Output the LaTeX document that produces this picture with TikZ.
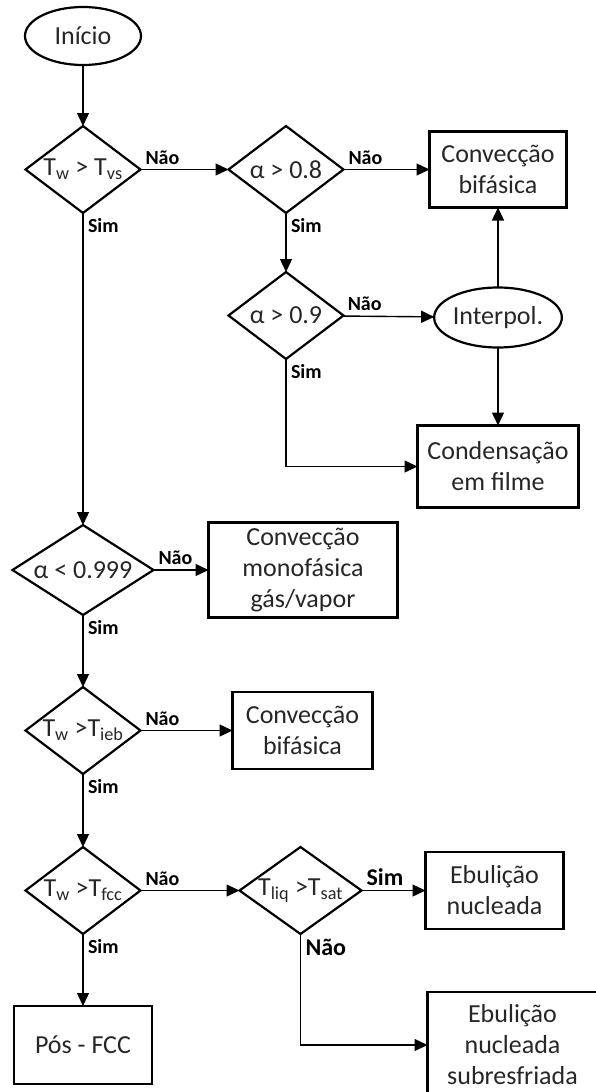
\documentclass[tikz,border=0pt]{standalone}
\usepackage{fontspec}
\setmainfont{Carlito}
\usetikzlibrary{arrows.meta,positioning,shapes.geometric}
\newcommand{\condtxt}[1]{\makebox[0pt]{#1}}
\newcommand{\ind}[1]{\textsubscript{#1}}

\begin{document}
\begin{tikzpicture}[
    x=1pt,y=1pt,
    every node/.style={font=\fontsize{26}{31}\selectfont,align=center,
      inner sep=0pt,outer sep=0pt,text=black!85},
    caixa/.style={draw,line width=2.2pt,minimum width=138pt,minimum height=78pt},
    decisao/.style={draw,diamond,line width=2.2pt,minimum width=115pt,minimum height=87pt},
    terminal/.style={draw,ellipse,line width=2.2pt,minimum width=116pt,minimum height=58pt},
    fluxo/.style={-{Triangle[length=13pt,width=12pt]},line width=1.4pt},
    rotulo/.style={font=\fontsize{20}{22}\selectfont\bfseries,text=black,
      inner xsep=5pt,inner ysep=5pt,pos=0},
    rotulog/.style={rotulo,font=\fontsize{24}{26}\selectfont\bfseries}
  ]
    \useasboundingbox (0,0) rectangle (595,-1092);

    \node[terminal] (inicio) at (83,-36) {Início};
    \node[decisao,below=61pt of inicio] (d1) {\condtxt{T\ind{w} > T\ind{vs}}};
    \node[decisao,right=88pt of d1] (d2) {\condtxt{α > 0.8}};
    \node[caixa,right=86pt of d2,minimum width=137pt,minimum height=76pt] (bif1)
      {Convecção\\bifásica};
    \node[decisao,below=59pt of d2] (d3) {\condtxt{α > 0.9}};
    \node[terminal,below=80pt of bif1,minimum width=115pt,minimum height=60pt] (interp)
      {Interpol.};
    \node[caixa,below=78pt of interp,minimum width=161pt,minimum height=82pt] (cond)
      {Condensação\\em filme};
    \node[decisao,below=312pt of d1,minimum width=141pt,minimum height=90pt] (d4)
      {\condtxt{α < 0.999}};
    \node[caixa,right=55pt of d4,minimum width=189pt,minimum height=95pt] (mono)
      {Convecção\\monofásica\\gás/vapor};
    \node[decisao,below=72pt of d4] (d5) {\condtxt{T\ind{w} >T\ind{ieb}}};
    \node[caixa,right=92pt of d5,minimum width=140pt,minimum height=77pt] (bif2)
      {Convecção\\bifásica};
    \node[decisao,below=73pt of d5] (d6) {\condtxt{T\ind{w} >T\ind{fcc}}};
    \node[decisao,right=99pt of d6,minimum width=122pt] (d7)
      {\condtxt{T\ind{liq} >T\ind{sat}}};
    \node[caixa,right=64pt of d7,minimum height=77pt] (ebn) {Ebulição\\nucleada};
    \node[caixa,below=72pt of d6] (pos) {Pós - FCC};
    \node[caixa,below=63pt of ebn.south west,anchor=north west,xshift=2pt,
      minimum width=170pt,minimum height=106pt] (sub)
      {Ebulição\\nucleada\\subresfriada};

    \draw[fluxo] (inicio) -- (d1);
    \draw[fluxo] (d1) -- node[rotulo,anchor=south west]{Não} (d2);
    \draw[fluxo] (d1) -- node[rotulo,anchor=north west]{Sim} (d4);
    \draw[fluxo] (d2) -- node[rotulo,anchor=south west]{Não} (bif1);
    \draw[fluxo] (d2) -- node[rotulo,anchor=north west]{Sim} (d3);
    \draw[fluxo] (d3) -- node[rotulo,anchor=south west]{Não} (interp);
    \draw[fluxo] (d3) |- node[rotulo,anchor=north west]{Sim} (cond);
    \draw[fluxo] (interp) -- (bif1);
    \draw[fluxo] (interp) -- (cond);
    \draw[fluxo] (d4) -- node[rotulo,anchor=south west]{Não} (mono);
    \draw[fluxo] (d4) -- node[rotulo,anchor=north west]{Sim} (d5);
    \draw[fluxo] (d5) -- node[rotulo,anchor=south west]{Não} (bif2);
    \draw[fluxo] (d5) -- node[rotulo,anchor=north west]{Sim} (d6);
    \draw[fluxo] (d6) -- node[rotulo,anchor=south west]{Não} (d7);
    \draw[fluxo] (d6) -- node[rotulo,anchor=north west]{Sim} (pos);
    \draw[fluxo] (d7) -- node[rotulog,anchor=south west]{Sim} (ebn);
    \draw[fluxo] (d7) |- node[rotulog,anchor=north west]{Não} (sub);
\end{tikzpicture}
\end{document}
